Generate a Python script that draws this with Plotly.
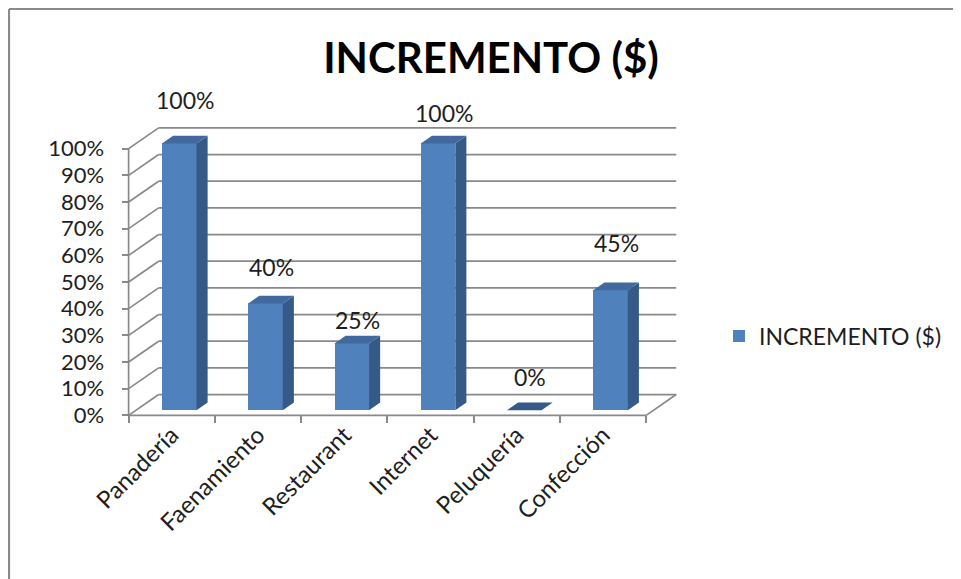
import plotly.graph_objects as go

# ---------------- data ----------------
categories = ["Panadería", "Faenamiento", "Restaurant", "Internet", "Peluquería", "Confección"]
values = [1.00, 0.40, 0.25, 1.00, 0.00, 0.45]
series_name = "INCREMENTO ($)"
y_ticks = [0, 0.1, 0.2, 0.3, 0.4, 0.5, 0.6, 0.7, 0.8, 0.9, 1.0]

# ---------------- style / geometry ----------------
W, H = 961, 579
OFF = 8  # page body margin offset of the figure
ML, MR, MT, MB = 120 - OFF, 276 + OFF, 122 - OFF, 153 + OFF
X_RANGE = [-0.6, 5.95]
Y_RANGE = [-0.04, 1.10]

DEPTH_X = 0.348      # 3D depth in category units
DEPTH_Y = 0.078      # 3D depth in value units
F_FRONT = 0.25       # depth fraction where bar front face sits
F_BAR = 0.37         # bar depth as fraction of full depth
BAR_W = 0.40
LABEL_YSHIFT = [30, 23, 10, 17, 20, 34]

FRONT = "#4F81BD"
SIDE = "#355A88"
TOP = "#41699D"
GRID = "#898989"
TXT = "#1E1E1E"
FONT = "Lato"

base = F_FRONT * DEPTH_Y
shift_x = F_FRONT * DEPTH_X
sx, sy = F_BAR * DEPTH_X, F_BAR * DEPTH_Y

fig = go.Figure()
fig.add_trace(go.Bar(
    x=categories, y=values, base=base, width=BAR_W,
    offset=-BAR_W / 2 + shift_x,
    marker=dict(color=FRONT, line=dict(width=0)),
    name=series_name, showlegend=True, hoverinfo="x+y",
))

shapes = []
n = len(categories)
lo, hi = -0.5, n - 0.5

# back wall + side wall gridlines
for t in y_ticks:
    shapes.append(dict(type="line", xref="x", yref="y", layer="below",
                       x0=lo + DEPTH_X, y0=t + DEPTH_Y, x1=hi + DEPTH_X, y1=t + DEPTH_Y,
                       line=dict(color=GRID, width=1.7)))
    shapes.append(dict(type="line", xref="x", yref="y", layer="below",
                       x0=lo, y0=t, x1=lo + DEPTH_X, y1=t + DEPTH_Y,
                       line=dict(color=GRID, width=1.7)))
# floor right edge, front edge, vertical axis line
shapes.append(dict(type="line", xref="x", yref="y", layer="below",
                   x0=hi, y0=0, x1=hi + DEPTH_X, y1=DEPTH_Y, line=dict(color=GRID, width=1.7)))
shapes.append(dict(type="line", xref="x", yref="y", layer="below",
                   x0=lo, y0=0, x1=hi, y1=0, line=dict(color=GRID, width=1.7)))
shapes.append(dict(type="line", xref="x", yref="y", layer="below",
                   x0=lo, y0=0, x1=lo, y1=1.0, line=dict(color=GRID, width=1.7)))

# 3D side & top faces of bars
for i, v in enumerate(values):
    xl = i - BAR_W / 2 + shift_x
    xr = xl + BAR_W
    b, tp = base, base + v
    side = f"M{xr},{b} L{xr+sx},{b+sy} L{xr+sx},{tp+sy} L{xr},{tp} Z"
    top = f"M{xl},{tp} L{xl+sx},{tp+sy} L{xr+sx},{tp+sy} L{xr},{tp} Z"
    if v > 0:
        shapes.append(dict(type="path", path=side, xref="x", yref="y", layer="above",
                           fillcolor=SIDE, line=dict(width=0)))
    shapes.append(dict(type="path", path=top, xref="x", yref="y", layer="above",
                       fillcolor=TOP if v > 0 else SIDE, line=dict(width=0)))

# chart frame (paper coords computed from figure pixels)
pw, ph = W - ML - MR, H - MT - MB
def px2paper_x(px):
    return (px - ML) / pw
def px2paper_y(py):
    return (H - MB - py) / ph
shapes.append(dict(type="line", xref="paper", yref="paper",
                   x0=px2paper_x(1), y0=px2paper_y(1), x1=px2paper_x(990), y1=px2paper_y(1),
                   line=dict(color="#8A8A8A", width=2.2)))
shapes.append(dict(type="line", xref="paper", yref="paper",
                   x0=px2paper_x(1), y0=px2paper_y(1), x1=px2paper_x(1), y1=px2paper_y(600),
                   line=dict(color="#8A8A8A", width=2.2)))

annotations = []
for i, v in enumerate(values):
    annotations.append(dict(
        x=i + shift_x + sx / 2, y=base + v, xref="x", yref="y",
        text=f"{v:.0%}", showarrow=False, yanchor="bottom", yshift=LABEL_YSHIFT[i] - 3,
        font=dict(family=FONT, size=23, color=TXT)))

fig.update_layout(
    width=W, height=H,
    margin=dict(l=ML, r=MR, t=MT, b=MB),
    paper_bgcolor="white", plot_bgcolor="rgba(0,0,0,0)",
    title=dict(text="<b>INCREMENTO ($)</b>", xref="container", yref="container",
               x=(491 - OFF) / W, y=1 - (58 - OFF) / H, xanchor="center", yanchor="middle",
               font=dict(family=FONT, size=42, color="#000000")),
    xaxis=dict(type="category", range=X_RANGE, tickson="boundaries",
               ticks="outside", ticklen=7, tickwidth=1.7, tickcolor=GRID,
               showline=False, showgrid=False, zeroline=False, tickangle=-45,
               tickfont=dict(family=FONT, size=24, color=TXT),
               anchor="free", position=(0 - Y_RANGE[0]) / (Y_RANGE[1] - Y_RANGE[0])),
    yaxis=dict(range=Y_RANGE, tickvals=y_ticks, tickformat=".0%",
               ticks="outside", ticklen=7, tickwidth=1.7, tickcolor=GRID,
               showline=False, showgrid=False, zeroline=False,
               ticklabelstandoff=13,
               tickfont=dict(family=FONT, size=22, color=TXT),
               anchor="free", position=(-0.5 - X_RANGE[0]) / (X_RANGE[1] - X_RANGE[0])),
    legend=dict(x=px2paper_x(711), y=px2paper_y(336 - OFF), xanchor="left", yanchor="middle",
                font=dict(family=FONT, size=23, color=TXT), bgcolor="rgba(0,0,0,0)"),
    shapes=shapes, annotations=annotations,
    bargap=0,
)

fig.write_html("out.html")
